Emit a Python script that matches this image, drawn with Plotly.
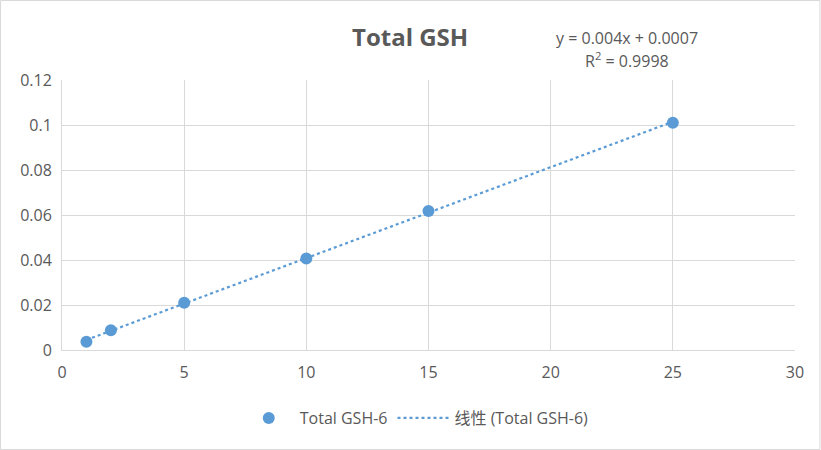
import numpy as np
import plotly.graph_objects as go

# Data
conc = [1, 2, 5, 10, 15, 25]
absorb = [0.0037, 0.0088, 0.0210, 0.0407, 0.0618, 0.1010]
x_ticks = [0, 5, 10, 15, 20, 25, 30]
y_ticks = [0, 0.02, 0.04, 0.06, 0.08, 0.1, 0.12]
series_name = "Total GSH-6"
trend_name = "线性 (Total GSH-6)"
title_text = "Total GSH"
eq_text = "y = 0.004x + 0.0007"
r2_text = "R<sup>2</sup> = 0.9998"

slope, intercept = np.polyfit(conc, absorb, 1)
tx = [min(conc), max(conc)]
ty = [slope * v + intercept for v in tx]

FONT = "Open Sans, Noto Sans CJK SC, sans-serif"
BLUE = "#5b9bd5"
GRID = "#d9d9d9"
TXT = "#595959"

fig = go.Figure()
fig.add_trace(go.Scatter(x=conc, y=absorb, mode="markers", name=series_name,
                         marker=dict(color=BLUE, size=12, line=dict(width=0))))
fig.add_trace(go.Scatter(x=tx, y=ty, mode="lines", name=trend_name,
                         line=dict(color=BLUE, width=2.2, dash="dot")))

W, H = 821, 450
L, R, T, B = 62, 25.5, 80, 100
pw, ph = W - L - R, H - T - B

fig.update_layout(
    width=W, height=H,
    margin=dict(l=L, r=R, t=T, b=B),
    paper_bgcolor="white", plot_bgcolor="white",
    font=dict(family=FONT, color=TXT, size=16),
    showlegend=True,
    legend=dict(orientation="h", x=(416 - L) / pw, xanchor="center",
                y=(350 - 418) / ph, yanchor="middle", itemwidth=52,
                font=dict(size=16, color=TXT)),
    xaxis=dict(range=[0, 30], tickvals=x_ticks, showgrid=True, gridcolor=GRID,
               gridwidth=1, zeroline=False, showline=True, linecolor=GRID,
               linewidth=1, ticks="", tickfont=dict(size=16, color=TXT),
               ticklabelstandoff=8),
    yaxis=dict(range=[0, 0.12], tickvals=y_ticks,
               ticktext=[("%g" % v) for v in y_ticks],
               showgrid=True, gridcolor=GRID, gridwidth=1, zeroline=False,
               showline=True, linecolor=GRID, linewidth=1, ticks="",
               tickfont=dict(size=16, color=TXT), ticklabelstandoff=6),
)

fig.add_annotation(text="<b>" + title_text + "</b>", xref="paper", yref="paper",
                   x=(410 - L) / pw, y=(350 - 36) / ph, showarrow=False,
                   xanchor="center", yanchor="middle",
                   font=dict(size=24, color=TXT, family=FONT))
fig.add_annotation(text=eq_text, xref="paper", yref="paper",
                   x=(627 - L) / pw, y=(350 - 38) / ph, showarrow=False,
                   xanchor="center", yanchor="middle",
                   font=dict(size=16, color=TXT, family=FONT))
fig.add_annotation(text=r2_text, xref="paper", yref="paper",
                   x=(627 - L) / pw, y=(350 - 60) / ph, showarrow=False,
                   xanchor="center", yanchor="middle",
                   font=dict(size=16, color=TXT, family=FONT))

fig.add_shape(type="rect", xref="paper", yref="paper",
              x0=(0.5 - L) / pw, x1=(820.5 - L) / pw,
              y0=(350 - 449.5) / ph, y1=(350 - 0.5) / ph,
              line=dict(color=GRID, width=1), layer="below")

fig.write_html("out.html")
